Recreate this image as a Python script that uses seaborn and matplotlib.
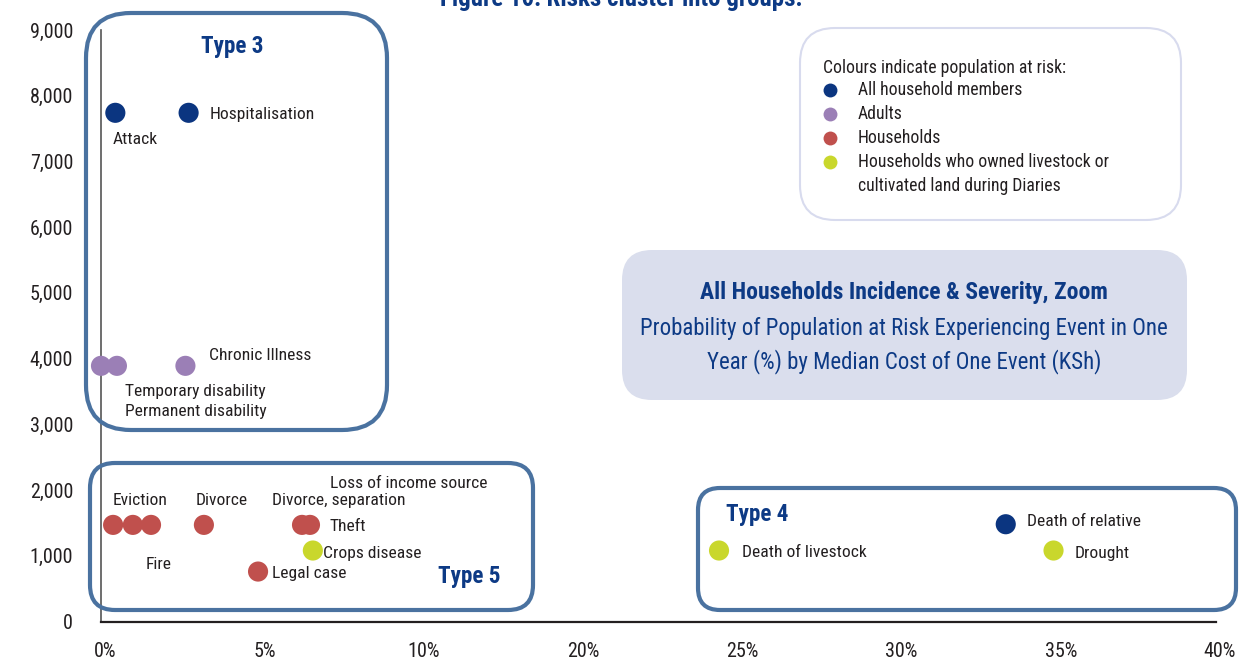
import numpy as np
import pandas as pd
import seaborn as sns
import matplotlib.pyplot as plt
from matplotlib import font_manager as fm
from matplotlib.lines import Line2D
from matplotlib.patches import FancyBboxPatch
from matplotlib.transforms import IdentityTransform, ScaledTranslation

# ---- data ----
events = ["Attack", "Hospitalisation", "Death of relative",
          "Temporary disability", "Permanent disability", "Chronic Illness",
          "Eviction", "Fire", "Loss of income source", "Divorce",
          "Divorce, separation", "Theft", "Legal case",
          "Crops disease", "Death of livestock", "Drought"]
probability = [0.45, 2.75, 33.4,
               0.0, 0.5, 2.65,
               0.38, 1.0, 1.57, 3.23,
               6.31, 6.56, 4.93,
               6.65, 24.4, 34.9]
median_cost = [7740, 7740, 1480,
               3890, 3890, 3890,
               1470, 1470, 1470, 1470,
               1470, 1470, 760,
               1080, 1080, 1080]
population = ["All household members"] * 3 + ["Adults"] * 3 + ["Households"] * 7 + \
             ["Households who owned livestock or\ncultivated land during Diaries"] * 3

groups = ["All household members", "Adults", "Households",
          "Households who owned livestock or\ncultivated land during Diaries"]
colors = ["#0b3580", "#9b7fb6", "#c0504d", "#c9d72c"]

x_ticks = [0, 5, 10, 20, 25, 30, 35, 40]
x_tick_labels = ["0%", "5%", "10%", "20%", "25%", "30%", "35%", "40%"]
y_ticks = list(range(0, 9001, 1000))

df = pd.DataFrame({"event": events, "prob": probability,
                   "cost": median_cost, "population": population})
palette = dict(zip(groups, colors))

# label placement: offset in pixels from the point, alignment
label_pos = {
    "Attack": (-3, -27, "left"),
    "Hospitalisation": (21, -2, "left"),
    "Chronic Illness": (24, 10, "left"),
    "Temporary disability": (24, -26, "left"),
    "Permanent disability": (8, -46, "left"),
    "Eviction": (27, 24, "center"),
    "Fire": (26, -40, "center"),
    "Loss of income source": (179, 41, "left"),
    "Divorce": (18, 24, "center"),
    "Divorce, separation": (37, 24, "center"),
    "Theft": (20, -2, "left"),
    "Legal case": (14, -2, "left"),
    "Crops disease": (10, -3, "left"),
    "Death of livestock": (23, -2, "left"),
    "Death of relative": (21, 3, "left"),
    "Drought": (21, -3, "left"),
}

W, H = 1259, 662
NAVY = "#0d3a85"
TXT = "#231f20"
BOXBLUE = "#4a72a0"

sns.set_theme(style="white")

# the original uses a condensed face; take the narrowest one that is installed
installed = {f.name for f in fm.fontManager.ttflist}
stretch = "normal"
family = None
for cand in ["Liberation Sans Narrow", "Roboto Condensed", "Open Sans Condensed",
             "Noto Sans Display", "Roboto", "Liberation Sans"]:
    if cand in installed:
        family = cand
        break
if any(f.name == "DejaVu Sans" and f.stretch == "condensed" for f in fm.fontManager.ttflist) \
        and family not in ("Liberation Sans Narrow", "Roboto Condensed", "Open Sans Condensed"):
    family, stretch = "DejaVu Sans", "condensed"
if family is None:
    family = "DejaVu Sans"
plt.rcParams["font.family"] = [family, "DejaVu Sans"]
plt.rcParams["font.stretch"] = stretch
plt.rcParams["text.color"] = TXT


def fwd(v):
    v = np.asarray(v, dtype=float)
    return np.where(v <= 10, v, np.where(v <= 20, 10 + (v - 10) / 2, v - 5))


def inv(u):
    u = np.asarray(u, dtype=float)
    return np.where(u <= 10, u, np.where(u <= 15, 10 + (u - 10) * 2, u + 5))


fig = plt.figure(figsize=(W / 100, H / 100), dpi=100)
renderer = fig.canvas.get_renderer()


def fit(s, target_px, weight="normal"):
    t = fig.text(0, 0, s, fontsize=10, weight=weight)
    w = t.get_window_extent(renderer).width
    t.remove()
    return 10 * target_px / w


fs_label = fit("Hospitalisation", 104)
fs_tick = fit("9,000", 43)
fs_type = fit("Type 3", 63, "bold")
fs_leg = fit("Households who owned livestock or", 249)
fs_head = fit("All Households Incidence & Severity, Zoom", 407, "bold")
fs_sub = fit("Probability of Population at Risk Experiencing Event in One", 525)
fs_title = fit("Figure 10: Risks cluster into groups.", 363, "bold")

ax = fig.add_axes([101 / W, 1 - 621.5 / H, (1216 - 101) / W, (621.5 - 30) / H])

sns.scatterplot(data=df, x="prob", y="cost", hue="population", hue_order=groups,
                palette=palette, s=210, linewidth=0, legend=False, ax=ax, zorder=3)
ax.collections[0].set_clip_on(False)

ax.set_xscale("function", functions=(fwd, inv))
ax.set_xlim(0, 40)
ax.set_ylim(0, 9000)
ax.set_xticks(x_ticks)
ax.set_xticklabels(x_tick_labels)
ax.set_yticks(y_ticks)
ax.set_yticklabels([f"{v:,}" for v in y_ticks])
ax.tick_params(axis="both", length=0, labelsize=fs_tick, colors=TXT)
ax.tick_params(axis="x", pad=15)
ax.tick_params(axis="y", pad=20)
shift = ScaledTranslation(4 / 100, 0, fig.dpi_scale_trans)
for lab in ax.get_xticklabels():
    lab.set_transform(lab.get_transform() + shift)
ax.set_xlabel("")
ax.set_ylabel("")
for side in ["top", "right"]:
    ax.spines[side].set_visible(False)
ax.spines["bottom"].set_color("#231f20")
ax.spines["bottom"].set_linewidth(1.6)
ax.spines["left"].set_color("#555555")
ax.spines["left"].set_linewidth(1.2)

for name, x, y in zip(events, probability, median_cost):
    dx, dy, ha = label_pos[name]
    ax.annotate(name, xy=(x, y), xytext=(dx, dy), textcoords="offset pixels",
                ha=ha, va="center", fontsize=fs_label, color=TXT, zorder=4)


def box(x0, y0, x1, y1, r, **kw):
    p = FancyBboxPatch((x0, H - y1), x1 - x0, y1 - y0,
                       boxstyle=f"round,pad=0,rounding_size={r}",
                       transform=IdentityTransform(), **kw)
    fig.add_artist(p)


# cluster boxes
box(86, 13, 387, 430, 45, fc="none", ec=BOXBLUE, lw=3)
box(90, 463, 533, 610, 25, fc="none", ec=BOXBLUE, lw=3)
box(698, 488, 1236, 610, 22, fc="none", ec=BOXBLUE, lw=3)
# legend frame + subtitle panel
box(800, 28, 1181, 220, 35, fc="none", ec="#d8dbee", lw=1.5)
box(622, 250, 1187, 400, 30, fc="#dadeed", ec="none", zorder=0.5)

for txt, (cx, cy) in {"Type 3": (232, 47), "Type 5": (469, 577),
                      "Type 4": (757, 514)}.items():
    fig.text(cx / W, 1 - cy / H, txt, ha="center", va="center",
             fontsize=fs_type, weight="bold", color=NAVY)

fig.text(621 / W, 1 - 6 / H, "Figure 10: Risks cluster into groups.",
         ha="center", va="baseline", fontsize=fs_title, weight="bold", color=NAVY)

fig.text(904 / W, 1 - 293 / H, "All Households Incidence & Severity, Zoom",
         ha="center", va="center", fontsize=fs_head, weight="bold", color=NAVY, zorder=5)
fig.text(904 / W, 1 - 328 / H, "Probability of Population at Risk Experiencing Event in One",
         ha="center", va="center", fontsize=fs_sub, color=NAVY, zorder=5)
fig.text(904 / W, 1 - 362 / H, "Year (%) by Median Cost of One Event (KSh)",
         ha="center", va="center", fontsize=fs_sub, color=NAVY, zorder=5)

# legend: title row then one row per population group (first line aligned with dot)
row_h = 24
fig.text(823 / W, 1 - 68 / H, "Colours indicate population at risk:",
         ha="left", va="center", fontsize=fs_leg, color=TXT)
row_y = 90
for g in groups:
    fig.add_artist(Line2D([830], [H - row_y], transform=IdentityTransform(),
                          ls="", marker="o", ms=10, mfc=palette[g], mec="none"))
    for k, line in enumerate(g.split("\n")):
        fig.text(858 / W, 1 - (row_y + k * row_h) / H, line,
                 ha="left", va="center", fontsize=fs_leg, color=TXT)
    row_y += row_h * (g.count("\n") + 1)

fig.savefig("out.png", dpi=100)
